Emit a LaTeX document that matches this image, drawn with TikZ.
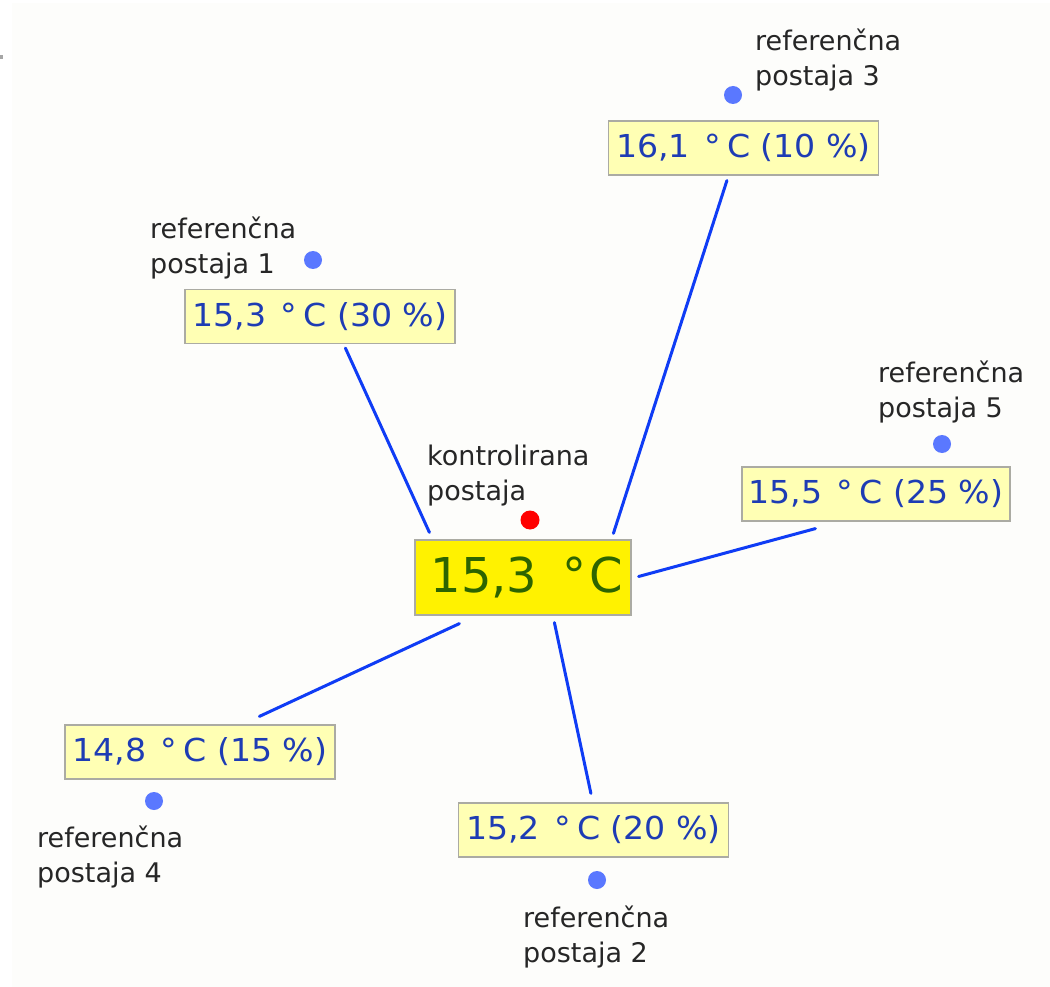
\documentclass[tikz,border=0pt]{standalone}
\usepackage{fontspec}
\setmainfont{DejaVu Sans}
\newfontfamily\valfont[FakeStretch=1.05]{DejaVu Sans}
\usetikzlibrary{calc}
\definecolor{boxfill}{HTML}{FFFFB4}
\definecolor{boxline}{HTML}{ABABA3}
\definecolor{valblue}{HTML}{1E3CB4}
\definecolor{linkblue}{HTML}{0F3CF5}
\definecolor{dotblue}{HTML}{5A78FF}
\definecolor{ctrgreen}{HTML}{2D6400}
\definecolor{labelgray}{HTML}{262626}
\definecolor{bgtone}{HTML}{FDFDFB}
\newcommand{\degsign}[2]{\hspace{#1}°\hspace{#2}}
\begin{document}
\begin{tikzpicture}[x=1pt,y=-1pt,
  valbox/.style={draw=boxline, line width=1.2pt, fill=boxfill, text=valblue,
    font=\valfont\fontsize{31.6}{36}\selectfont, minimum width=270pt, minimum height=54pt, inner sep=0pt},
  ctrbox/.style={draw=boxline, line width=1.2pt, fill=yellow, text=ctrgreen,
    font=\fontsize{48}{56}\selectfont, minimum width=216pt, minimum height=75pt, inner sep=0pt},
  stationlabel/.style={anchor=base west, align=left, inner sep=0pt, text=labelgray,
    font=\fontsize{27}{35}\selectfont},
  refdot/.style={circle, fill=dotblue, minimum size=18pt, inner sep=0pt},
  ctrdot/.style={circle, fill=red, minimum size=19pt, inner sep=0pt},
  link/.style={draw=linkblue, line width=3pt, line cap=round}
]
\useasboundingbox (0,0) rectangle (1050,987);
\fill[white] (0,0) rectangle (1050,987);
\fill[bgtone] (12,3) rectangle (1050,987);
\fill[gray!70] (0,55) rectangle (3,59);

% value boxes
\node[valbox] (b3) at (743.5,148) {16,1 \degsign{4pt}{6pt}C (10 \%)};
\node[valbox] (b1) at (320,316.5) {15,3 \degsign{4pt}{6pt}C (30 \%)};
\node[valbox, minimum width=268pt] (b5) at (876,494) {15,5 \degsign{4pt}{6pt}C (25 \%)};
\node[ctrbox] (c) at (523,577.5) {\hspace{8pt}15,3 \degsign{10pt}{3pt}C};
\node[valbox] (b4) at (200,752) {14,8 \degsign{4pt}{6pt}C (15 \%)};
\node[valbox] (b2) at (593.5,830) {15,2 \degsign{4pt}{6pt}C (20 \%)};

% station dots
\node[refdot] (d3) at (733,95) {};
\node[refdot] (d1) at (313,260) {};
\node[refdot] (d5) at (942,444) {};
\node[refdot] (d4) at (154,801) {};
\node[refdot] (d2) at (597,880) {};
\node[ctrdot] (dc) at (530,520) {};

% labels (base = baseline of last line)
\node[stationlabel] (l3) at (755,86) {referenčna\\postaja 3};
\node[stationlabel] (l1) at (150,273) {referenčna\\postaja 1};
\node[stationlabel] (l5) at (878,417) {referenčna\\postaja 5};
\node[stationlabel] (lc) at (427,500) {kontrolirana\\postaja};
\node[stationlabel] (l4) at (37,882) {referenčna\\postaja 4};
\node[stationlabel] (l2) at (523,962) {referenčna\\postaja 2};

% connectors
\draw[link] ($(b1.south west)+(161,4)$) -- ($(c.north west)+(15,-7)$);
\draw[link] ($(b3.south west)+(119,5)$) -- ($(c.north west)+(199,-6)$);
\draw[link] ($(b5.south west)+(74,7)$) -- ($(c.east)+(7,-1)$);
\draw[link] ($(b4.north west)+(195,-8)$) -- ($(c.south west)+(45,8)$);
\draw[link] ($(b2.north west)+(133,-9)$) -- ($(c.south west)+(140,7)$);
\end{tikzpicture}
\end{document}
